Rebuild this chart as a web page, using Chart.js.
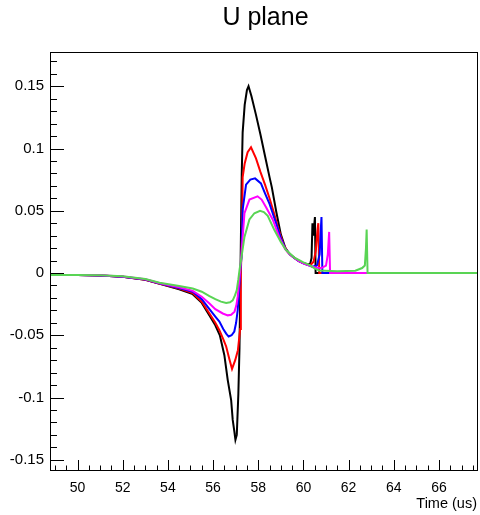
<!DOCTYPE html>
<html><head><meta charset="utf-8">
<script src="https://cdn.jsdelivr.net/npm/chart.js@4.4.1/dist/chart.umd.min.js"></script>
<style>html,body{margin:0;padding:0;background:#fff;} #wrap{width:480px;height:515px;}</style>
</head><body><div id="wrap"><canvas id="c" width="480" height="515"></canvas></div>
<script>
const titleText = 'U plane';
const xAxisTitle = 'Time (us)';
const xRange = [48.78, 67.73];
const yRange = [-0.159, 0.1775];
const xTicks = [50, 52, 54, 56, 58, 60, 62, 64, 66];
const xTickLabels = ['50', '52', '54', '56', '58', '60', '62', '64', '66'];
const yTicks = [-0.15, -0.1, -0.05, 0, 0.05, 0.1, 0.15];
const yTickLabels = ['-0.15', '-0.1', '-0.05', '0', '0.05', '0.1', '0.15'];

// [time (us), amplitude]
const black = [[48.78,-0.0016],[50,-0.0016],[51,-0.0019],[52,-0.003],[53,-0.0055],[53.6,-0.0085],[54.5,-0.013],[55.1,-0.017],[55.5,-0.024],[55.84,-0.034],[56.1,-0.042],[56.3,-0.05],[56.5,-0.066],[56.65,-0.086],[56.8,-0.102],[56.87,-0.118],[56.94,-0.127],[56.99,-0.134],[57.05,-0.13],[57.12,-0.097],[57.17,-0.06],[57.22,0.01],[57.27,0.08],[57.31,0.113],[57.4,0.135],[57.5,0.147],[57.57,0.15],[57.7,0.142],[57.9,0.127],[58.1,0.111],[58.3,0.094],[58.5,0.077],[58.6,0.069],[58.8,0.049],[59,0.031],[59.2,0.02],[59.4,0.015],[59.6,0.012],[59.8,0.0095],[60,0.008],[60.2,0.0068],[60.3,0.0075],[60.36,0.012],[60.4,0.04],[60.44,0.03],[60.51,0.045],[60.54,0],[67.73,0]];
const red = [[48.78,-0.0016],[50,-0.0016],[51,-0.0019],[52,-0.003],[53,-0.0055],[53.6,-0.0085],[54.5,-0.0125],[55.1,-0.016],[55.5,-0.023],[55.84,-0.0325],[56.1,-0.04],[56.28,-0.046],[56.45,-0.053],[56.58,-0.059],[56.72,-0.069],[56.84,-0.077],[56.98,-0.07],[57.1,-0.062],[57.2,-0.045],[57.23,0],[57.28,0.03],[57.31,0.077],[57.4,0.088],[57.53,0.097],[57.68,0.101],[57.9,0.092],[58.1,0.081],[58.3,0.071],[58.5,0.06],[58.7,0.048],[58.9,0.035],[59.1,0.024],[59.3,0.017],[59.5,0.0135],[59.7,0.011],[59.9,0.0088],[60.1,0.0072],[60.3,0.0062],[60.45,0.009],[60.55,0.018],[60.62,0.034],[60.66,0.04],[60.7,0],[67.73,0]];
const blue = [[48.78,-0.0016],[50,-0.0016],[51,-0.0019],[52,-0.003],[53,-0.0052],[53.6,-0.0082],[54.5,-0.012],[55.1,-0.015],[55.5,-0.021],[55.84,-0.029],[56.1,-0.035],[56.28,-0.039],[56.45,-0.045],[56.58,-0.0486],[56.69,-0.051],[56.82,-0.05],[56.94,-0.047],[57.02,-0.04],[57.09,-0.03],[57.16,-0.012],[57.21,0.003],[57.26,0.013],[57.31,0.051],[57.46,0.071],[57.65,0.075],[57.86,0.076],[58.12,0.072],[58.3,0.064],[58.49,0.056],[58.79,0.04],[59,0.028],[59.2,0.0195],[59.4,0.015],[59.6,0.012],[59.8,0.0095],[60,0.0078],[60.2,0.0063],[60.4,0.005],[60.6,0.006],[60.72,0.015],[60.77,0.035],[60.8,0.045],[60.84,0],[67.73,0]];
const magenta = [[48.78,-0.0016],[50,-0.0016],[51,-0.0018],[52,-0.0028],[53,-0.005],[53.6,-0.008],[54.5,-0.0115],[55.1,-0.0143],[55.5,-0.019],[55.84,-0.0245],[56.1,-0.029],[56.43,-0.0325],[56.65,-0.034],[56.8,-0.0335],[56.95,-0.031],[57.03,-0.026],[57.09,-0.019],[57.15,-0.008],[57.2,0.002],[57.25,0.014],[57.39,0.048],[57.61,0.059],[57.97,0.0616],[58.15,0.059],[58.34,0.053],[58.64,0.043],[58.93,0.029],[59.2,0.019],[59.4,0.015],[59.6,0.012],[59.8,0.0095],[60,0.0078],[60.2,0.0063],[60.4,0.005],[60.6,0.0042],[60.8,0.004],[61,0.006],[61.08,0.015],[61.14,0.033],[61.18,0],[67.73,0]];
const green = [[48.78,-0.0016],[50,-0.0016],[51,-0.0017],[52,-0.0026],[53,-0.0048],[53.63,-0.0078],[54.5,-0.0105],[55.1,-0.0124],[55.5,-0.015],[55.84,-0.0185],[56.1,-0.021],[56.35,-0.023],[56.58,-0.024],[56.75,-0.0235],[56.87,-0.022],[56.97,-0.018],[57.05,-0.0137],[57.12,-0.005],[57.17,0.0024],[57.24,0.0105],[57.39,0.029],[57.61,0.043],[57.83,0.048],[58.08,0.05],[58.25,0.049],[58.42,0.046],[58.71,0.0347],[59,0.025],[59.23,0.0185],[59.6,0.0124],[60,0.0085],[60.26,0.0065],[60.48,0.004],[60.7,0.002],[61.5,0.0015],[62.3,0.0018],[62.6,0.004],[62.72,0.006],[62.77,0.02],[62.8,0.035],[62.84,0],[67.73,0]];

// Chart.js draws lower "order" on top: green on top, black at the bottom
const series = [
  {name: 'black', pts: black, color: '#000000', order: 4},
  {name: 'red', pts: red, color: '#ff0000', order: 3},
  {name: 'blue', pts: blue, color: '#0000ff', order: 2},
  {name: 'magenta', pts: magenta, color: '#ff00ff', order: 1},
  {name: 'green', pts: green, color: 'rgb(89,212,84)', order: 0}
];

const FONT = "'Liberation Sans', Arial, Helvetica, sans-serif";

const framePlugin = {
  id: 'frameTicks',
  afterDraw(chart) {
    const ctx = chart.ctx, a = chart.chartArea;
    const xs = chart.scales.x, ys = chart.scales.y;
    ctx.save();
    ctx.strokeStyle = '#000';
    ctx.lineWidth = 1;
    ctx.strokeRect(Math.round(a.left) + 0.5, Math.round(a.top) + 0.5, Math.round(a.right - a.left) - 1, Math.round(a.bottom - a.top) - 1);
    ctx.beginPath();
    for (let v = -0.15; v <= 0.1751; v += 0.01) {
      const vv = Math.round(v * 100) / 100;
      const y = Math.round(ys.getPixelForValue(vv)) + 0.5;
      if (y < a.top || y > a.bottom) continue;
      const major = Math.abs(vv * 20 - Math.round(vv * 20)) < 1e-6;
      ctx.moveTo(a.left, y);
      ctx.lineTo(a.left + (major ? 14 : 7), y);
    }
    for (let v = 49; v <= 67.5; v += 0.5) {
      const x = Math.round(xs.getPixelForValue(v)) + 0.5;
      if (x < a.left || x > a.right) continue;
      const major = Math.abs(v / 2 - Math.round(v / 2)) < 1e-6;
      ctx.moveTo(x, a.bottom);
      ctx.lineTo(x, a.bottom - (major ? 11 : 5.5));
    }
    ctx.stroke();
    ctx.fillStyle = '#000';
    ctx.font = '25px ' + FONT;
    ctx.textAlign = 'center';
    ctx.textBaseline = 'alphabetic';
    ctx.fillText(titleText, 265.5, 25);
    ctx.font = '14.5px ' + FONT;
    ctx.textAlign = 'right';
    ctx.fillText(xAxisTitle, 477, 508);
    ctx.restore();
  }
};

new Chart(document.getElementById('c'), {
  type: 'line',
  data: {
    datasets: series.map(s => ({
      label: s.name,
      data: s.pts.map(p => ({x: p[0], y: p[1]})),
      borderColor: s.color,
      backgroundColor: s.color,
      borderWidth: 2,
      pointRadius: 0,
      tension: 0,
      fill: false,
      order: s.order
    }))
  },
  options: {
    responsive: false,
    animation: false,
    layout: {padding: {left: 0, top: 52, right: 2, bottom: 0}},
    plugins: {legend: {display: false}, title: {display: false}, tooltip: {enabled: false}},
    scales: {
      x: {
        type: 'linear', min: xRange[0], max: xRange[1],
        afterFit: s => { s.height = 44; },
        afterBuildTicks: s => { s.ticks = xTicks.map(v => ({value: v})); },
        ticks: {callback: (v, i) => xTickLabels[i], font: {family: FONT, size: 14}, color: '#000', padding: 9, maxRotation: 0, autoSkip: false},
        grid: {display: false, drawTicks: false},
        border: {display: false}
      },
      y: {
        type: 'linear', min: yRange[0], max: yRange[1],
        afterFit: s => { s.width = 50; },
        afterBuildTicks: s => { s.ticks = yTicks.map(v => ({value: v})); },
        ticks: {callback: (v, i) => yTickLabels[i], font: {family: FONT, size: 15}, color: '#000', padding: 6, autoSkip: false},
        grid: {display: false, drawTicks: false},
        border: {display: false}
      }
    }
  },
  plugins: [framePlugin]
});
</script>
</body></html>
